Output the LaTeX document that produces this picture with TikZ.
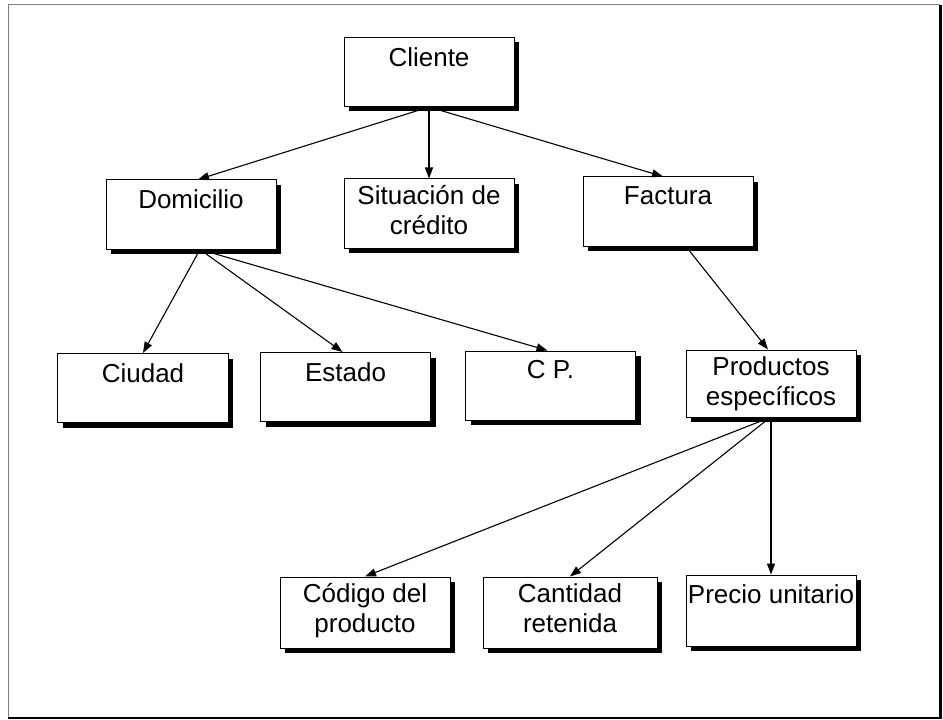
\documentclass[tikz,border=0pt]{standalone}
\usepackage{fontspec}
\setmainfont{Liberation Sans}
\usetikzlibrary{arrows.meta,shadows}
\tikzset{
  box/.style={draw=black, line width=1bp, fill=white, rectangle, minimum width=170bp, minimum height=69bp, inner sep=0pt,
    drop shadow={shadow xshift=5bp, shadow yshift=-5bp, fill=black, opacity=1}},
  txt/.style={anchor=north, inner sep=0pt, align=center, yshift=-10bp, font=\fontsize{26bp}{30bp}\selectfont},
  conn/.style={draw=black, line width=1.1bp, -{Triangle[length=11bp,width=8bp]}},
  frameline/.style={draw=gray, line width=1bp}
}
\begin{document}
\begin{tikzpicture}[x=1bp,y=-1bp]
\useasboundingbox (0,0) rectangle (943,720);
% outer frame
\draw[frameline] (8,5) rectangle (939,717);
\draw[line width=2.5bp] (940.5,5) -- (940.5,718.5);
\draw[line width=1.5bp] (8,718) -- (941,718);

% boxes
\node[box] (cli) at (429,72) {};
\node[box] (dom) at (191,214.5) {};
\node[box] (sit) at (429,213.5) {};
\node[box] (fac) at (668,211.5) {};
\node[box] (ciu) at (143,388) {};
\node[box] (est) at (345.5,387) {};
\node[box] (cp) at (550.5,385.5) {};
\node[box, minimum height=67bp] (pro) at (771,383.5) {};
\node[box, minimum height=71bp] (cod) at (365,612.5) {};
\node[box, minimum width=174bp, minimum height=71bp] (can) at (570,612.5) {};
\node[box, minimum height=71bp] (pre) at (771,610.5) {};

% texts
\node[txt] (tcli) at (cli.north) {Cliente};
\node[txt] (tdom) at (dom.north) {Domicilio};
\node[txt, yshift=3bp] (tsit) at (sit.north) {Situación de\\crédito};
\node[txt] (tfac) at (fac.north) {Factura};
\node[txt] (tciu) at (ciu.north) {Ciudad};
\node[txt] (test) at (est.north) {Estado};
\node[txt] (tcp) at (cp.north) {C P.};
\node[txt, yshift=3bp] (tpro) at (pro.north) {Productos\\específicos};
\node[txt, yshift=3bp] (tcod) at (cod.north) {Código del\\producto};
\node[txt, yshift=3bp] (tcan) at (can.north) {Cantidad\\retenida};
\node[txt] (tpre) at (pre.north) {Precio unitario};

% connectors
\draw[conn] (cli.south) -- ([xshift=7bp]dom.north);
\draw[conn] (cli.south) -- (sit.north);
\draw[conn] (cli.south) -- ([xshift=-5bp]fac.north);
\draw[conn] ([xshift=9bp]dom.south) -- (ciu.north);
\draw[conn] ([xshift=9bp]dom.south) -- ([xshift=-3bp]est.north);
\draw[conn] ([xshift=9bp]dom.south) -- ([xshift=-3bp]cp.north);
\draw[conn] ([xshift=18bp]fac.south) -- ([xshift=-3bp]pro.north);
\draw[conn] ([xshift=-1bp]pro.south) -- (cod.north);
\draw[conn] ([xshift=-1bp]pro.south) -- (can.north);
\draw[conn] (pro.south) -- (pre.north);
\end{tikzpicture}
\end{document}
